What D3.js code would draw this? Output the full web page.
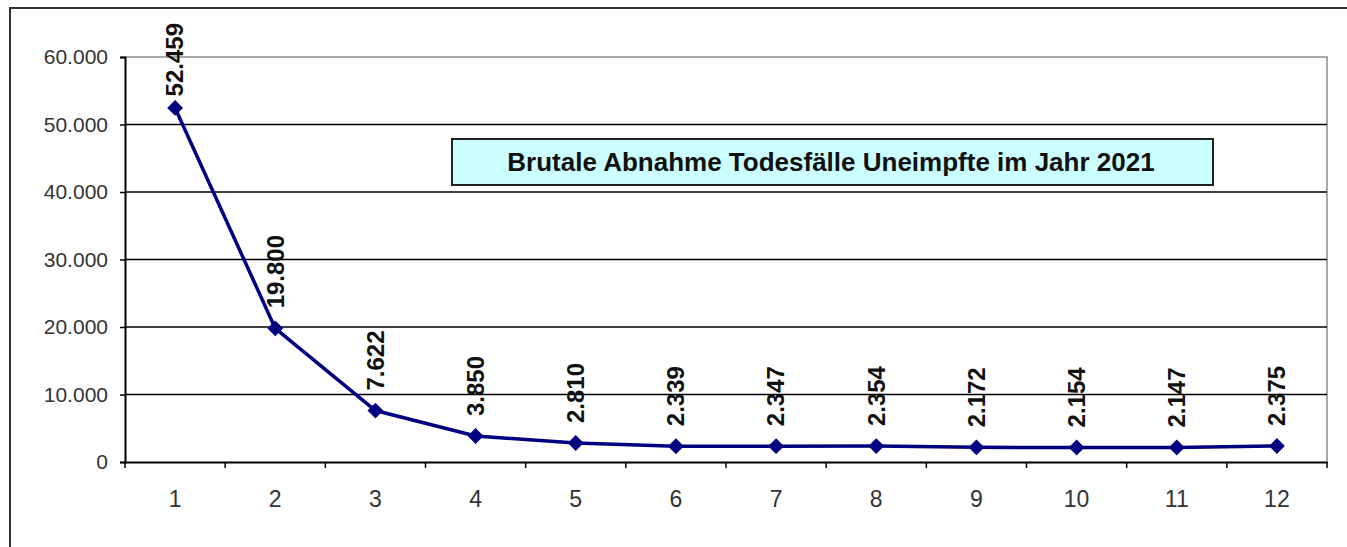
<!DOCTYPE html>
<html>
<head>
<meta charset="utf-8">
<script src="https://cdn.jsdelivr.net/npm/d3@7"></script>
<style>
  body { margin: 0; background: #fff; }
  text { font-family: Arial, "Liberation Sans", sans-serif; }
</style>
</head>
<body>
<svg id="chart" width="1347" height="547"></svg>
<script>
// data
const months = ["1","2","3","4","5","6","7","8","9","10","11","12"];
const deaths = [52459, 19800, 7622, 3850, 2810, 2339, 2347, 2354, 2172, 2154, 2147, 2375];
const yTicks = [0, 10000, 20000, 30000, 40000, 50000, 60000];
const title = "Brutale Abnahme Todesfälle Uneimpfte im Jahr 2021";

const width = 1347, height = 547;
const font = "Arial, 'Liberation Sans', sans-serif";

const svg = d3.select("#chart");
svg.append("rect").attr("width", width).attr("height", height).attr("fill", "#fff");

// outer frame
svg.append("rect")
  .attr("x", 10).attr("y", 8)
  .attr("width", 1400).attr("height", 600)
  .attr("fill", "none").attr("stroke", "#333").attr("stroke-width", 2);

const x = d3.scaleBand().domain(months).range([125, 1327]);
const y = d3.scaleLinear().domain([0, 60000]).range([462, 57]);

// plot area border (grey top/right)
svg.append("path")
  .attr("d", `M${x.range()[0]},${y(60000)}H${x.range()[1]}V${y(0)}`)
  .attr("fill", "none").attr("stroke", "#8c8c8c").attr("stroke-width", 1.5);

// gridlines
svg.append("g").selectAll("line")
  .data(yTicks.filter(d => d > 0 && d < 60000))
  .enter().append("line")
  .attr("x1", 125).attr("x2", 1327)
  .attr("y1", d => y(d)).attr("y2", d => y(d))
  .attr("stroke", "#000").attr("stroke-width", 1.3);

// y axis
const fmt = d => d === 0 ? "0" : d3.format(",")(d).replace(/,/g, ".");
const yAxis = svg.append("g")
  .attr("transform", "translate(125,0)")
  .call(d3.axisLeft(y).tickValues(yTicks).tickFormat(fmt).tickSize(5).tickPadding(12));
yAxis.select(".domain").attr("stroke", "#000").attr("stroke-width", 2);
yAxis.selectAll(".tick line").attr("stroke", "#000").attr("stroke-width", 1.5);
yAxis.selectAll("text").attr("font-size", 21).attr("fill", "#333").attr("font-family", font);

// x axis
const xAxis = svg.append("g")
  .attr("transform", `translate(0,${y(0)})`)
  .call(d3.axisBottom(x).tickSize(0).tickPadding(29));
xAxis.select(".domain").attr("stroke", "#000").attr("stroke-width", 2);
xAxis.selectAll("text").attr("font-size", 23).attr("fill", "#333").attr("font-family", font);
// ticks at band boundaries
const bounds = months.map(m => x(m)).concat([x.range()[1]]);
svg.append("g").selectAll("line")
  .data(bounds)
  .enter().append("line")
  .attr("x1", d => d).attr("x2", d => d)
  .attr("y1", y(0)).attr("y2", y(0) + 6)
  .attr("stroke", "#000").attr("stroke-width", 1.5);

// title box
svg.append("rect")
  .attr("x", 452).attr("y", 139).attr("width", 761).attr("height", 46)
  .attr("fill", "#ccffff").attr("stroke", "#222").attr("stroke-width", 2);
svg.append("text")
  .attr("x", 831).attr("y", 171)
  .attr("text-anchor", "middle")
  .attr("font-size", 26).attr("font-weight", "bold").attr("fill", "#111")
  .text(title);

// line
const cx = (d, i) => x(months[i]) + x.bandwidth() / 2;
svg.append("path")
  .datum(deaths)
  .attr("d", d3.line().x(cx).y(d => y(d)))
  .attr("fill", "none").attr("stroke", "#000080").attr("stroke-width", 3.5);

// markers
svg.append("g").selectAll("path")
  .data(deaths)
  .enter().append("path")
  .attr("transform", (d, i) => `translate(${cx(d, i)},${y(d)})`)
  .attr("d", d3.symbol().type(d3.symbolDiamond2).size(160))
  .attr("fill", "#000080");

// data labels (rotated), kept inside the frame at the top
const labels = svg.append("g").selectAll("text")
  .data(deaths)
  .enter().append("text")
  .attr("dy", "0.35em")
  .attr("font-size", 24).attr("font-weight", "bold").attr("fill", "#111")
  .text(d => fmt(d));
labels.attr("transform", function (d, i) {
  const len = this.getComputedTextLength();
  const gap = Math.min(20, y(d) - 23 - len);
  return `translate(${cx(d, i)},${y(d) - gap}) rotate(-90)`;
});
</script>
</body>
</html>
